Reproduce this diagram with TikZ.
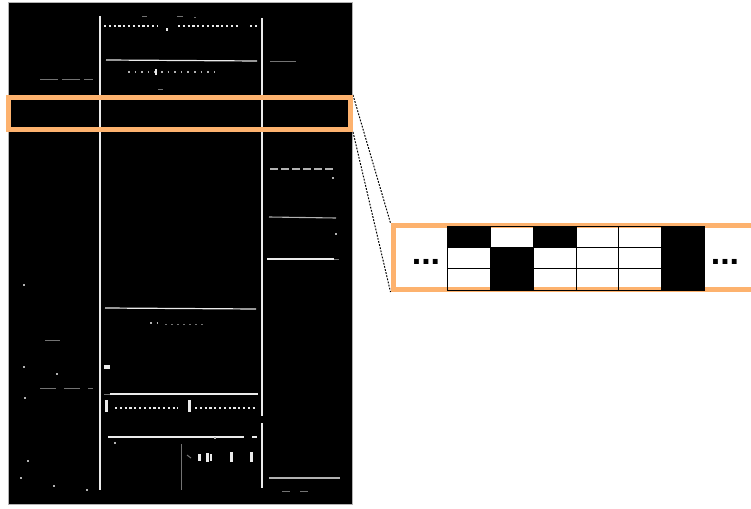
\documentclass[tikz,border=0pt]{standalone}
\usepackage{fontspec}
\setmainfont{Liberation Sans}
\definecolor{hilite}{RGB}{253,178,110}
\definecolor{inkA}{gray}{0.92}
\definecolor{inkB}{gray}{0.70}
\definecolor{inkC}{gray}{0.45}
\begin{document}
\begin{tikzpicture}[x=1pt,y=-1pt,
  rule/.style={draw=inkA,line width=1.2pt},
  faint/.style={draw=inkC,line width=1pt},
  mid/.style={draw=inkB,line width=1.1pt},
  glyphs/.style={draw=inkA,line width=2.4pt,dash pattern=on 2.2pt off 2.6pt},
  sparse/.style={draw=inkB,line width=2pt,dash pattern=on 1.6pt off 5pt},
  frame/.style={draw=hilite,line width=5pt,inner sep=0pt,fill=none},
  link/.style={draw=black,line width=1pt,dash pattern=on 1.8pt off 1.4pt},
  cellon/.style={fill=black},
  gridline/.style={draw=black,line width=0.7pt},
  dots/.style={font=\fontsize{34}{34}\selectfont\bfseries,inner sep=0pt}]
\useasboundingbox (0,0) rectangle (751,508);

% scanned page
\fill[black] (8,2) rectangle (352,504);
\draw[gray!60,line width=0.8pt] (8,2) rectangle (352,504);

% column rules
\draw[rule] (100,16) -- (100,490);
\draw[rule] (262,18) -- (262,416);
\draw[rule] (262,423) -- (262,488);
\draw[faint] (181,444) -- (181,490);

% horizontal rules, centre column
\draw[rule] (106,60) -- (257,61);
\draw[rule] (105,308) -- (256,309);
\draw[rule] (110,394) -- (258,394);
\draw[faint] (104,394) -- (110,394);
\draw[rule] (108,437) -- (244,437);
\draw[rule] (252,437) -- (257,437);

% rules, right column
\draw[mid,dash pattern=on 8pt off 3pt] (270,169) -- (335,169);
\draw[mid] (269,217) -- (336,218);
\draw[rule] (267,259) -- (334,259);
\draw[faint] (334,259) -- (339,259);
\draw[mid] (269,478) -- (340,478);
\draw[faint] (270,62) -- (296,62);
\draw[faint] (282,491) -- (290,491);
\draw[faint] (300,491) -- (308,491);

% faint rules, left column
\draw[faint,dash pattern=on 18pt off 4pt] (40,80) -- (93,80);
\draw[faint,dash pattern=on 16pt off 8pt] (40,388) -- (93,388);
\draw[faint] (45,340) -- (60,340);

% text lines, centre column
\draw[glyphs] (104,26) -- (157,26);
\draw[glyphs] (178,26) -- (238,26);
\draw[glyphs] (250,26) -- (258,26);
\fill[inkA] (166,28) rectangle (168,31);
\draw[faint] (142,17) -- (147,17);
\draw[faint] (177,17) -- (183,17);
\draw[faint] (194,18) -- (196,18);
\draw[faint] (158,90) -- (163,90);
\draw[sparse] (128,72) -- (220,72);
\fill[inkA] (155,69) rectangle (156.5,75);
\draw[sparse] (150,323) -- (160,323);
\draw[faint,dash pattern=on 2pt off 4pt] (165,324) -- (203,324);
\fill[inkA] (104,365) rectangle (110,369);
\fill[inkA] (105,400) rectangle (108,412);
\draw[glyphs,line width=1.8pt] (115,408) -- (178,408);
\fill[inkA] (188,400) rectangle (191,412);
\draw[glyphs,line width=2pt] (195,408) -- (255,408);

% SOFIA heading
\draw[faint] (187,455) -- (191,458);
\fill[inkA] (198,454) rectangle (201,461);
\fill[inkA] (206,453) rectangle (209,462);
\fill[inkA] (210,454) rectangle (212,461);
\fill[inkA] (230,452) rectangle (233,462);
\fill[inkA] (250,452) rectangle (253,462);

% stray specks
\foreach \px/\py in {24/285,24/367,57/374,25/398,28/461,21/478,54/486,87/490,333/178,336/234,115/443,215/438}
  \fill[inkB] (\px-1,\py-1) rectangle (\px+1,\py+1);

% highlighted strip and its enlargement
\node[frame,minimum width=342pt,minimum height=32pt] (strip) at (179.5,113.5) {};
\node[frame,fill=white,minimum width=362pt,minimum height=64pt] (lens) at (574,257.5) {};
\draw[link] (strip.north east) -- (lens.north west);
\draw[link] (strip.south east) -- (lens.south west);
\node[frame,minimum width=342pt,minimum height=32pt] at (strip) {};
\node[frame,minimum width=362pt,minimum height=64pt] at (lens) {};

% pixel grid inside the enlargement
\fill[cellon] (447,226) rectangle (490,247.3);
\fill[cellon] (490,247.3) rectangle (533,290);
\fill[cellon] (533,226) rectangle (576,247.3);
\fill[cellon] (661,226) rectangle (704,290);
\foreach \gx in {490,533,576,618,661}
  \draw[gridline] (\gx,226) -- (\gx,290);
\foreach \gy in {247.3,268.7}
  \draw[gridline] (447,\gy) -- (704,\gy);
\draw[black,line width=0.9pt] (447,226) rectangle (704,290);

\node[dots] (left) at (426,262) {...};
\node[dots] (right) at (725,262) {...};
\end{tikzpicture}
\end{document}
